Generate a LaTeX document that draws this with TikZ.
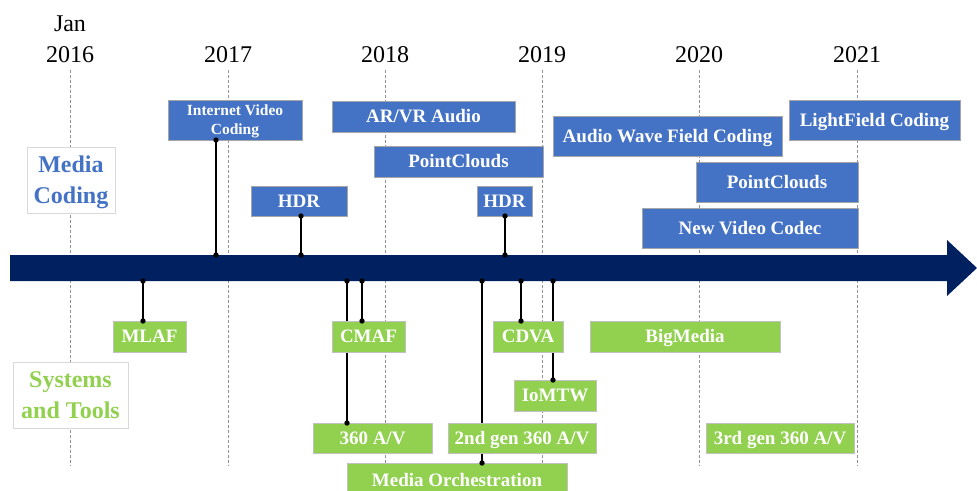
\documentclass[tikz,border=0pt]{standalone}
\usepackage{fontspec}
\setmainfont{Liberation Serif}
\usetikzlibrary{backgrounds}
\definecolor{codingblue}{HTML}{4472C4}
\definecolor{toolgreen}{HTML}{92D050}
\definecolor{axisnavy}{HTML}{002060}
\definecolor{boxedge}{HTML}{A6A6A6}
\tikzset{
  every node/.style={inner sep=0pt, outer sep=0pt},
  bluebox/.style={fill=codingblue, draw=boxedge, line width=0.6pt, text=white,
    font=\bfseries\fontsize{19}{22}\selectfont, text height=12.5pt, text depth=0pt},
  greenbox/.style={fill=toolgreen, draw=boxedge!70, line width=0.6pt, text=white,
    font=\bfseries\fontsize{19}{22}\selectfont, text height=12.5pt, text depth=0pt},
  groupbox/.style={fill=white, draw=black!15, line width=0.6pt,
    font=\bfseries\fontsize{24}{31}\selectfont, align=center,
    text height=47pt, text depth=0pt},
  yearlabel/.style={anchor=base, font=\fontsize{24}{28}\selectfont},
  gridline/.style={gray!85, line width=0.8pt, dash pattern=on 3pt off 2pt},
  conn/.style={black, line width=1.8pt},
  dotmark/.style={fill=black}
}
\begin{document}
\begin{tikzpicture}[x=1pt, y=-1pt]
\useasboundingbox (0,0) rectangle (977,490);

% year labels
\node[yearlabel] (jan) at (70,31) {Jan};
\node[yearlabel] (y2016) at (70,62) {2016};
\node[yearlabel] (y2017) at (228,62) {2017};
\node[yearlabel] (y2018) at (385,62) {2018};
\node[yearlabel] (y2019) at (542,62) {2019};
\node[yearlabel] (y2020) at (699,62) {2020};
\node[yearlabel] (y2021) at (857,62) {2021};

% group labels
\node[groupbox, text=codingblue, minimum width=88pt, minimum height=66pt] (mc) at (71,180) {Media\\Coding};
\node[groupbox, text=toolgreen, minimum width=115pt, minimum height=66pt] (st) at (70.5,395) {Systems\\and Tools};

% media coding items
\node[bluebox, minimum width=134pt, minimum height=40pt, align=center,
  font=\bfseries\fontsize{15.5}{19}\selectfont, text height=29.2pt] (ivc) at (235,120) {Internet Video\\Coding};
\node[bluebox, minimum width=96pt, minimum height=30pt] (hdra) at (299,201) {HDR};
\node[bluebox, minimum width=183pt, minimum height=31pt] (arvr) at (423.5,116.5) {AR/VR Audio};
\node[bluebox, minimum width=169pt, minimum height=31pt] (pca) at (458.5,161.5) {PointClouds};
\node[bluebox, minimum width=55pt, minimum height=30pt] (hdrb) at (504.5,201) {HDR};
\node[bluebox, minimum width=229pt, minimum height=40pt] (awfc) at (667.5,136) {Audio Wave Field Coding};
\node[bluebox, minimum width=171pt, minimum height=40pt] (lfc) at (874.5,120) {LightField Coding};
\node[bluebox, minimum width=162pt, minimum height=40pt] (pcb) at (777,182) {PointClouds};
\node[bluebox, minimum width=216pt, minimum height=40pt] (nvc) at (750,228) {New Video Codec};

% systems and tools items
\node[greenbox, minimum width=73pt, minimum height=31pt] (mlaf) at (149.5,336.5) {MLAF};
\node[greenbox, minimum width=73pt, minimum height=31pt] (cmaf) at (368.5,336.5) {CMAF};
\node[greenbox, minimum width=70pt, minimum height=31pt] (cdva) at (528,336.5) {CDVA};
\node[greenbox, minimum width=190pt, minimum height=31pt] (bigm) at (685,336.5) {BigMedia};
\node[greenbox, minimum width=82pt, minimum height=31pt] (iomtw) at (555,395.5) {IoMTW};
\node[greenbox, minimum width=119pt, minimum height=30pt] (avone) at (372.5,438) {360 A/V};
\node[greenbox, minimum width=148pt, minimum height=30pt] (avtwo) at (522,438) {2nd gen 360 A/V};
\node[greenbox, minimum width=148pt, minimum height=30pt] (avthree) at (780,438) {3rd gen 360 A/V};
\node[greenbox, minimum width=220pt, minimum height=34pt] (mo) at (457,480) {Media Orchestration};

% attachment points on the time axis
\coordinate (tivc) at (216,255);
\coordinate (thdra) at (301,255);
\coordinate (thdrb) at (505,255);
\coordinate (bmlaf) at (143,281);
\coordinate (bavone) at (347,281);
\coordinate (bcmaf) at (362,281);
\coordinate (bmo) at (482,281);
\coordinate (bcdva) at (521,281);
\coordinate (biomtw) at (553,281);

\begin{pgfonlayer}{background}
  % yearly grid
  \foreach \gx in {70,228,385,542,699,857}
    \draw[gridline] (\gx,70) -- (\gx,466);
  % time axis arrow
  \fill[axisnavy] (10,255) -- (947,255) -- (947,240) -- (977,268) -- (947,296)
    -- (947,281) -- (10,281) -- cycle;
  % connectors
  \draw[conn] (tivc) -- (tivc |- ivc.south);
  \draw[conn] (thdra) -- (thdra |- hdra.south);
  \draw[conn] (thdrb) -- (thdrb |- hdrb.south);
  \draw[conn] (bmlaf) -- (bmlaf |- mlaf.north);
  \draw[conn] (bavone) -- (bavone |- avone.north);
  \draw[conn] (bcmaf) -- (bcmaf |- cmaf.north);
  \draw[conn] (bmo) -- (bmo |- mo.north);
  \draw[conn] (bcdva) -- (bcdva |- cdva.north);
  \draw[conn] (biomtw) -- (biomtw |- iomtw.north);
\end{pgfonlayer}

% connector end dots
\foreach \a/\b in {tivc/ivc, thdra/hdra, thdrb/hdrb}{
  \fill[dotmark] (\a) circle[radius=2.7pt];
  \fill[dotmark] (\a |- \b.south) circle[radius=2.7pt];
}
\foreach \a/\b in {bmlaf/mlaf, bavone/avone, bcmaf/cmaf, bmo/mo, bcdva/cdva, biomtw/iomtw}{
  \fill[dotmark] (\a) circle[radius=2.7pt];
  \fill[dotmark] (\a |- \b.north) circle[radius=2.7pt];
}
\end{tikzpicture}
\end{document}
